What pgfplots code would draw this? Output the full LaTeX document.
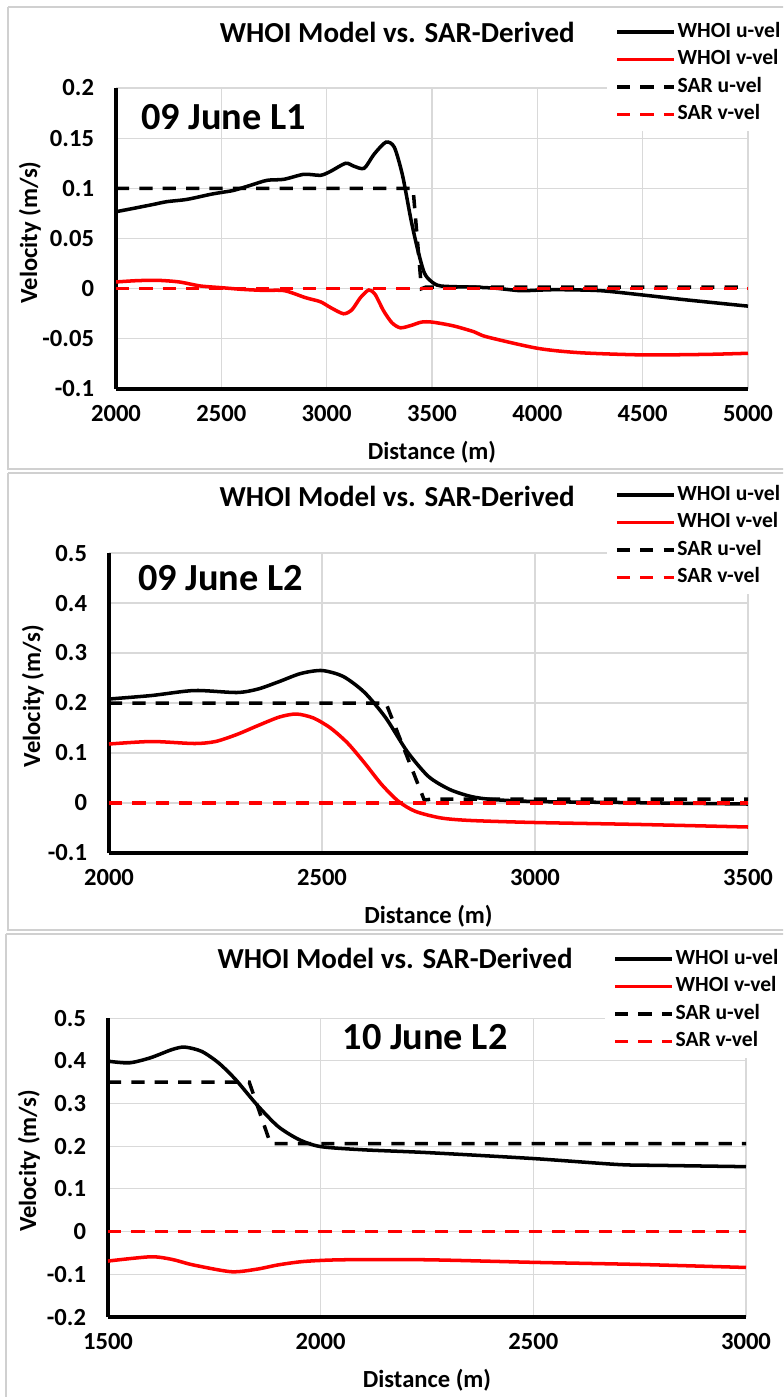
\documentclass[border=0pt]{standalone}
\usepackage{fontspec}
\setmainfont{Carlito}
\usepackage{pgfplots}
\pgfplotsset{compat=1.18}
\definecolor{gridgray}{HTML}{D9D9D9}
\definecolor{framegray}{HTML}{D0D0D0}
\newcommand\legfont{\fontsize{12.3}{14}\selectfont\bfseries}

\pgfplotsset{
  velo/.style={
    scale only axis,
    axis x line*=bottom, axis y line*=left,
    axis line style={line width=2.3pt},
    major tick length=0pt,
    grid=major,
    grid style={gridgray, line width=0.6pt},
    scaled ticks=false,
    ticklabel style={font=\fontsize{14}{16}\selectfont\bfseries},
    xticklabel style={yshift=-6pt},
    yticklabel style={xshift=-9pt},
    xlabel={Distance (m)},
    ylabel={Velocity (m/s)},
    label style={font=\fontsize{14}{16}\selectfont\bfseries},
    xlabel style={yshift=-4pt},
    title={WHOI Model vs. SAR-Derived},
    title style={font=\fontsize{16.5}{19}\selectfont\bfseries, anchor=center, yshift=0pt},
    legend cell align=left,
    legend style={draw=none, fill=white, anchor=north west, font=\legfont,
      inner xsep=4.5pt, inner ysep=3pt, row sep=2.6pt,
      nodes={inner sep=1pt, text height=8.5pt, text depth=2.5pt}},
    legend image code/.code={\draw[##1] (0cm,0cm) -- (1.14cm,0cm);},
  },
  whoi/.style={line width=2pt, smooth, tension=0.45},
  sar/.style={line width=2pt, dash pattern=on 7.5pt off 5.8pt},
}

\begin{document}
\begin{tikzpicture}
\useasboundingbox (0,0) rectangle (15.66cm,-27.94cm);
\clip (0,0) rectangle (15.66cm,-27.94cm);
% panel frames
\draw[framegray, line width=0.6pt] (0.16cm,-0.14cm) -- (15.8cm,-0.14cm);
\draw[framegray, line width=0.6pt] (0.16cm,-0.14cm) -- (0.16cm,-9.38cm) -- (15.8cm,-9.38cm);
\draw[framegray, line width=0.6pt] (0.16cm,-9.46cm) -- (15.8cm,-9.46cm);
\draw[framegray, line width=0.6pt] (0.16cm,-9.46cm) -- (0.16cm,-18.6cm) -- (15.8cm,-18.6cm);
\draw[framegray, line width=0.6pt] (0.12cm,-18.68cm) -- (15.8cm,-18.68cm);
\draw[framegray, line width=0.6pt] (0.12cm,-18.68cm) -- (0.12cm,-28cm);

% ---------------- 09 June L1 ----------------
\begin{axis}[velo,
  at={(2.32cm,-7.78cm)}, anchor=south west,
  width=12.64cm, height=6.02cm,
  xmin=2000, xmax=5000, ymin=-0.1, ymax=0.2,
  xtick={2000,2500,3000,3500,4000,4500,5000},
  xticklabels={2000,2500,3000,3500,4000,4500,5000},
  ytick={-0.1,-0.05,0,0.05,0.1,0.15,0.2},
  yticklabels={-0.1,-0.05,0,0.05,0.1,0.15,0.2},
  title style={at={(0.445,1.1495)}},
  ylabel style={at={(axis description cs:-0.136,0.52)}, anchor=center},
  legend style={at={(0.777,1.2425)}},
]
\addplot[black, whoi] coordinates {
 (2000,0.0767) (2082,0.080) (2178,0.084) (2241,0.0867) (2337,0.089)
 (2448,0.094) (2503,0.096) (2559,0.098) (2638,0.103) (2717,0.108)
 (2797,0.109) (2892,0.114) (2971,0.113) (3019,0.117) (3090,0.125)
 (3130,0.122) (3178,0.120) (3225,0.134) (3281,0.146) (3321,0.141)
 (3360,0.113) (3400,0.069) (3432,0.039) (3463,0.016) (3494,0.0077)
 (3541,0.0027) (3700,0.0015) (3800,0.0005) (3918,-0.002) (4000,-0.0015)
 (4100,-0.001) (4300,-0.002) (4500,-0.0063) (4700,-0.011) (5000,-0.0174)
};
\addplot[red, whoi] coordinates {
 (2000,0.0067) (2100,0.008) (2200,0.0083) (2300,0.0067) (2400,0.0027)
 (2500,0.001) (2600,-0.0007) (2700,-0.0017) (2800,-0.002) (2900,-0.009)
 (2970,-0.013) (3020,-0.019) (3080,-0.025) (3120,-0.021) (3160,-0.009)
 (3200,-0.0013) (3230,-0.0057) (3270,-0.022) (3310,-0.034) (3350,-0.039)
 (3400,-0.0367) (3450,-0.0333) (3500,-0.0333) (3600,-0.037) (3700,-0.043)
 (3760,-0.048) (4000,-0.0594) (4200,-0.0638) (4500,-0.066) (4800,-0.0655)
 (5000,-0.0644)
};
\addplot[black, sar] coordinates {
 (2000,0.1) (3410,0.1) (3450,0.0) (3470,0.0015) (5000,0.0015)
};
\addplot[red, sar] coordinates {(2000,0) (5000,0)};
\legend{WHOI u-vel, WHOI v-vel, SAR u-vel, SAR v-vel}
\node[font=\fontsize{21.8}{25}\selectfont\bfseries, anchor=west]
  at (rel axis cs:0.03,0.904) {09 June L1};
\end{axis}

% ---------------- 09 June L2 ----------------
\begin{axis}[velo,
  at={(2.18cm,-17.06cm)}, anchor=south west,
  width=12.78cm, height=6.0cm,
  xmin=2000, xmax=3500, ymin=-0.1, ymax=0.5,
  xtick={2000,2500,3000,3500},
  xticklabels={2000,2500,3000,3500},
  ytick={-0.1,0,0.1,0.2,0.3,0.4,0.5},
  yticklabels={-0.1,0,0.1,0.2,0.3,0.4,0.5},
  title style={at={(0.451,1.153)}},
  ylabel style={at={(axis description cs:-0.119,0.523)}, anchor=center},
  legend style={at={(0.779,1.25)}},
]
\addplot[black, whoi] coordinates {
 (2000,0.208) (2100,0.215) (2200,0.225) (2300,0.221) (2350,0.228)
 (2400,0.243) (2450,0.259) (2500,0.265) (2550,0.253) (2600,0.221)
 (2650,0.170) (2700,0.103) (2750,0.053) (2800,0.027) (2850,0.013)
 (2900,0.007) (3000,0.003) (3200,0.001) (3500,-0.002)
};
\addplot[red, whoi] coordinates {
 (2000,0.118) (2100,0.123) (2200,0.119) (2250,0.123) (2300,0.137)
 (2350,0.155) (2400,0.172) (2440,0.178) (2480,0.170) (2520,0.150)
 (2560,0.120) (2600,0.080) (2640,0.037) (2680,0.003) (2720,-0.017)
 (2780,-0.030) (2850,-0.035) (3000,-0.039) (3250,-0.043) (3500,-0.048)
};
\addplot[black, sar] coordinates {
 (2000,0.2) (2650,0.2) (2740,0.006) (2760,0.008) (3500,0.008)
};
\addplot[red, sar] coordinates {(2000,0) (3500,0)};
\legend{WHOI u-vel, WHOI v-vel, SAR u-vel, SAR v-vel}
\node[font=\fontsize{21.8}{25}\selectfont\bfseries, anchor=west]
  at (rel axis cs:0.036,0.917) {09 June L2};
\end{axis}

% ---------------- 10 June L2 ----------------
\begin{axis}[velo,
  at={(2.16cm,-26.34cm)}, anchor=south west,
  width=12.76cm, height=5.98cm,
  xmin=1500, xmax=3000, ymin=-0.2, ymax=0.5,
  xtick={1500,2000,2500,3000},
  xticklabels={1500,2000,2500,3000},
  ytick={-0.2,-0.1,0,0.1,0.2,0.3,0.4,0.5},
  yticklabels={-0.2,-0.1,0,0.1,0.2,0.3,0.4,0.5},
  title style={at={(0.45,1.164)}},
  ylabel style={at={(axis description cs:-0.124,0.522)}, anchor=center},
  legend style={at={(0.779,1.254)}},
]
\addplot[black, whoi] coordinates {
 (1500,0.399) (1550,0.395) (1600,0.407) (1650,0.426) (1680,0.432)
 (1720,0.422) (1760,0.395) (1800,0.356) (1850,0.297) (1900,0.246)
 (1950,0.215) (2000,0.199) (2100,0.1915) (2250,0.185) (2500,0.171)
 (2700,0.157) (2800,0.155) (3000,0.152)
};
\addplot[red, whoi] coordinates {
 (1500,-0.069) (1600,-0.059) (1650,-0.065) (1700,-0.078) (1790,-0.094)
 (1850,-0.088) (1900,-0.078) (1960,-0.070) (2050,-0.066) (2250,-0.066)
 (2500,-0.072) (2750,-0.077) (3000,-0.084)
};
\addplot[black, sar] coordinates {
 (1500,0.35) (1832,0.35) (1882,0.206) (3000,0.206)
};
\addplot[red, sar] coordinates {(1500,0) (3000,0)};
\legend{WHOI u-vel, WHOI v-vel, SAR u-vel, SAR v-vel}
\node[font=\fontsize{21.8}{25}\selectfont\bfseries, anchor=center]
  at (rel axis cs:0.497,0.936) {10 June L2};
\end{axis}
\end{tikzpicture}
\end{document}
